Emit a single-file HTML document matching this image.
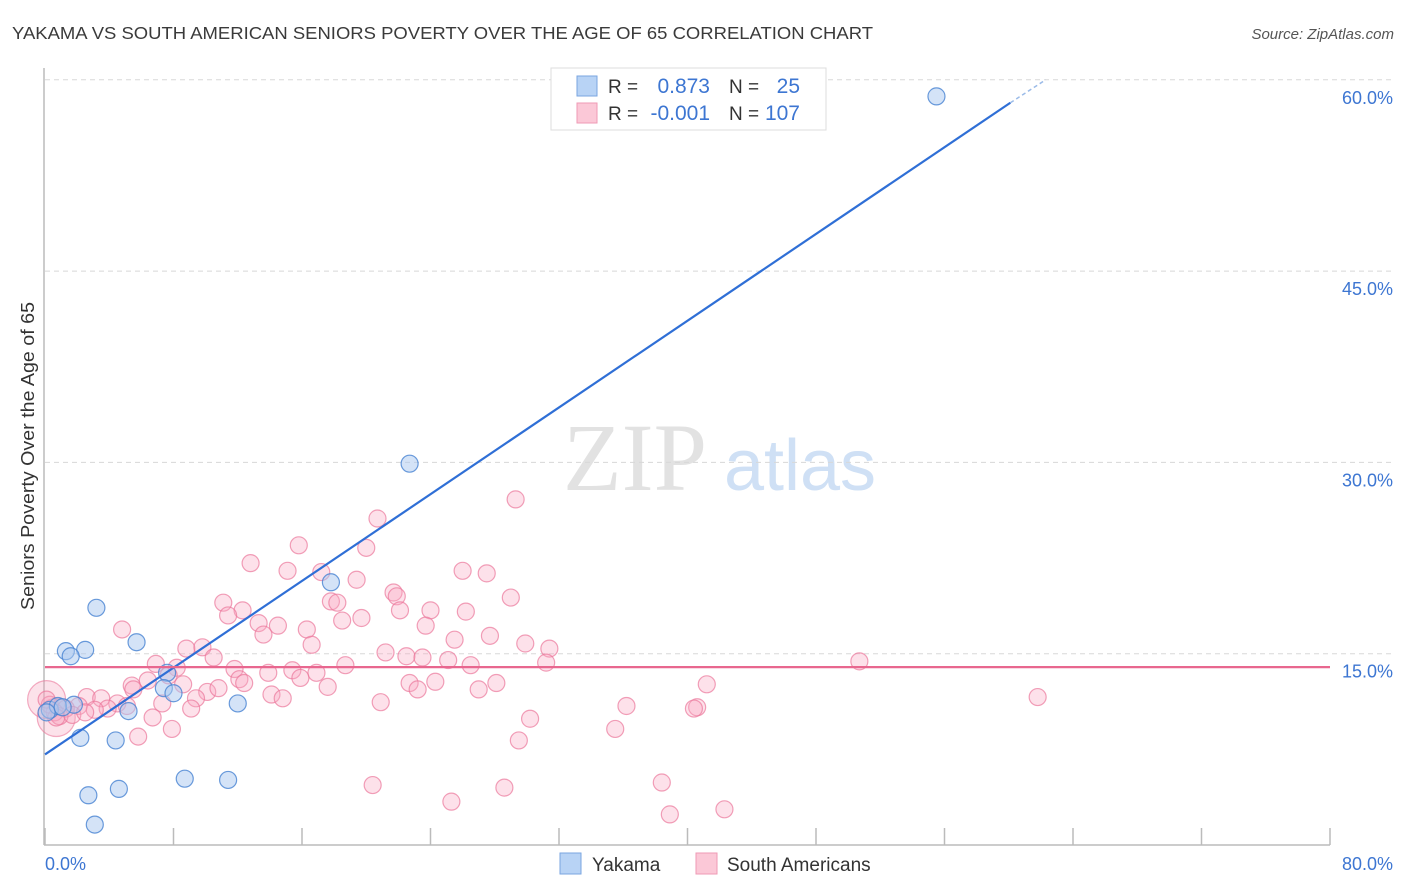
<!DOCTYPE html>
<html><head><meta charset="utf-8"><style>
body{margin:0;background:#fff;font-family:"Liberation Sans",sans-serif}
svg{display:block}
</style></head><body>
<svg id="c" width="1406" height="892">
<text x="12" y="39" font-size="17.5" fill="#3a3a3a" textLength="861" lengthAdjust="spacingAndGlyphs">YAKAMA VS SOUTH AMERICAN SENIORS POVERTY OVER THE AGE OF 65 CORRELATION CHART</text>
<text x="1394" y="39" font-size="15" fill="#555" font-style="italic" text-anchor="end">Source: ZipAtlas.com</text>
<text transform="translate(34,456) rotate(-90)" font-size="18" fill="#333" text-anchor="middle" textLength="308" lengthAdjust="spacingAndGlyphs">Seniors Poverty Over the Age of 65</text>
<g>
<text x="635" y="490" font-size="96" font-family="Liberation Serif,serif" fill="#e2e2e2" text-anchor="middle">ZIP</text>
<text x="800" y="490" font-size="72" fill="#cfe0f5" text-anchor="middle">atlas</text></g>
<g id="grid"></g><g id="axes"></g><g id="pts"></g><g id="lines"></g>
<g>
<rect x="551" y="68" width="275" height="62" fill="#fff" stroke="#ddd"/>
<rect x="577" y="76" width="20" height="20" fill="#b8d3f5" stroke="#7aa6e0"/>
<rect x="577" y="103" width="20" height="20" fill="#fbc8d7" stroke="#ef9ab4"/>
<text x="608" y="93" font-size="19" fill="#333">R =</text>
<text x="710" y="93" font-size="21" fill="#3d76d2" text-anchor="end">0.873</text>
<text x="729" y="93" font-size="19" fill="#333">N =</text>
<text x="800" y="93" font-size="21" fill="#3d76d2" text-anchor="end">25</text>
<text x="608" y="120" font-size="19" fill="#333">R =</text>
<text x="710" y="120" font-size="21" fill="#3d76d2" text-anchor="end">-0.001</text>
<text x="729" y="120" font-size="19" fill="#333">N =</text>
<text x="800" y="120" font-size="21" fill="#3d76d2" text-anchor="end">107</text>
</g>
<g>
<rect x="560" y="853" width="21" height="21" fill="#b8d3f5" stroke="#7aa6e0"/>
<text x="592" y="871" font-size="19" fill="#333">Yakama</text>
<rect x="696" y="853" width="21" height="21" fill="#fbc8d7" stroke="#ef9ab4"/>
<text x="727" y="871" font-size="19" fill="#333">South Americans</text>
</g>
</svg>
<script>
const xTicks=[0,8,16,24,32,40,48,56,64,72,80];
const yTicks=[15,30,45,60];
const yTickLabels=["15.0%","30.0%","45.0%","60.0%"];
const blueX=[55.5,22.7,17.8,3.2,5.7,1.3,2.5,1.6,7.6,7.4,8.0,12.0,5.2,1.8,0.3,0.8,0.1,2.2,4.4,8.7,11.4,2.7,4.6,3.1,1.1];
const blueY=[58.7,29.9,20.6,18.6,15.9,15.2,15.3,14.8,13.5,12.3,11.9,11.1,10.5,11.0,10.6,10.9,10.4,8.4,8.2,5.2,5.1,3.9,4.4,1.6,10.8];
const pinkX=[20.7,29.3,15.8,20.0,12.8,26.0,27.5,15.1,17.2,19.4,21.7,21.9,29.0,11.1,17.8,18.2,22.1,24.0,26.2,12.3,11.4,18.5,19.7,13.3,14.5,16.3,23.7,13.6,4.8,25.5,27.7,29.9,31.4,8.8,9.8,16.6,21.2,22.5,23.5,25.1,10.5,6.9,8.2,11.8,18.7,26.5,31.2,13.9,15.4,16.9,12.1,50.7,7.7,6.4,5.4,8.6,12.4,15.9,17.6,22.7,23.2,24.3,28.1,27.0,41.2,10.1,14.1,14.8,10.8,5.5,2.6,3.5,4.5,5.1,9.4,9.1,7.3,3.9,2.1,1.3,0.6,0.3,0.9,61.8,20.9,36.2,40.6,40.4,30.2,6.7,7.9,5.8,35.5,29.5,20.4,38.4,25.3,28.6,38.9,42.3,3.1,0.1,0.7,1.7,2.5];
const pinkY=[25.6,27.1,23.5,23.3,22.1,21.5,21.3,21.5,21.4,20.8,19.8,19.5,19.4,19.0,19.1,19.0,18.4,18.4,18.3,18.4,18.0,17.6,17.8,17.4,17.2,16.9,17.2,16.5,16.9,16.1,16.4,15.8,15.4,15.4,15.5,15.7,15.1,14.8,14.7,14.5,14.7,14.2,13.9,13.8,14.1,14.1,14.3,13.5,13.7,13.5,13.0,14.4,13.3,12.9,12.5,12.6,12.7,13.1,12.4,12.7,12.2,12.8,12.7,12.2,12.6,12.0,11.8,11.5,12.3,12.2,11.6,11.5,11.1,10.9,11.5,10.7,11.1,10.7,10.9,10.7,10.4,11.0,10.1,11.6,11.2,10.9,10.8,10.7,9.9,10.0,9.1,8.5,9.1,8.2,4.7,4.9,3.4,4.5,2.4,2.8,10.6,11.4,10.0,10.2,10.4];
const pinkBig=[0.1,0.7];
const blueLine=[[0,7.1],[60.1,58.2],[62.3,60.0]];
const pinkLine=[[0,13.95],[80,13.95]];
const X=v=>45+v*(1285/80), Y=v=>845-v*(191.3/15);
const NS="http://www.w3.org/2000/svg";
function mk(t,a,p){const e=document.createElementNS(NS,t);for(const k in a)e.setAttribute(k,a[k]);p.appendChild(e);return e;}
const grid=document.getElementById('grid'),axes=document.getElementById('axes'),pts=document.getElementById('pts'),lines=document.getElementById('lines');
yTicks.forEach((t,i)=>{
 const l=mk('line',{x1:45,x2:1394,y1:Y(t),y2:Y(t),stroke:'#d8d8d8','stroke-dasharray':'5,4'},grid);
 
 
 const tx=mk('text',{x:1393,y:Y(t)+24,'font-size':18,fill:'#3d76d2','text-anchor':'end'},grid);
 tx.textContent=yTickLabels[i];
 
 
});
const ax=mk('line',{x1:44,x2:44,y1:68,y2:845,stroke:'#bbb','stroke-width':1.5},axes);


const bx=mk('line',{x1:44,x2:1330,y1:845,y2:845,stroke:'#bbb','stroke-width':1.5},axes);


xTicks.forEach(t=>{
 const l=mk('line',{x1:X(t),x2:X(t),y1:828,y2:845,stroke:'#bbb','stroke-width':1.5},axes);
 
 
});
const xl0=mk('text',{x:45,y:870,'font-size':18,fill:'#3d76d2'},axes);xl0.textContent='0.0%';


const xl1=mk('text',{x:1393,y:870,'font-size':18,fill:'#3d76d2','text-anchor':'end'},axes);xl1.textContent='80.0%';


pinkBig.forEach((v,i)=>{
 const c=mk('circle',{cx:X(v),cy:Y(pinkY[pinkY.length-4+i]),r:19,fill:'rgba(245,160,185,0.3)',stroke:'rgba(235,120,155,0.6)','stroke-width':1.2},pts);
 
 
});
pinkX.forEach((v,i)=>{
 const c=mk('circle',{cx:X(v),cy:Y(pinkY[i]),r:8.5,fill:'rgba(248,170,195,0.35)',stroke:'rgba(235,120,155,0.7)','stroke-width':1.2},pts);
 
 
});
blueX.forEach((v,i)=>{
 const c=mk('circle',{cx:X(v),cy:Y(blueY[i]),r:8.5,fill:'rgba(170,200,240,0.5)',stroke:'rgba(70,130,210,0.8)','stroke-width':1.2},pts);
 
 
});
const bl=mk('line',{x1:X(blueLine[0][0]),y1:Y(blueLine[0][1]),x2:X(blueLine[1][0]),y2:Y(blueLine[1][1]),stroke:'#2f6fd6','stroke-width':2.2},lines);


const bd=mk('line',{x1:X(blueLine[1][0]),y1:Y(blueLine[1][1]),x2:X(blueLine[2][0]),y2:Y(blueLine[2][1]),stroke:'#9bbbe8','stroke-width':1.5,'stroke-dasharray':'4,3'},lines);


const pl=mk('line',{x1:X(pinkLine[0][0]),y1:Y(pinkLine[0][1]),x2:X(pinkLine[1][0]),y2:Y(pinkLine[1][1]),stroke:'#e8678f','stroke-width':2.2},lines);


</script>
</body></html>
